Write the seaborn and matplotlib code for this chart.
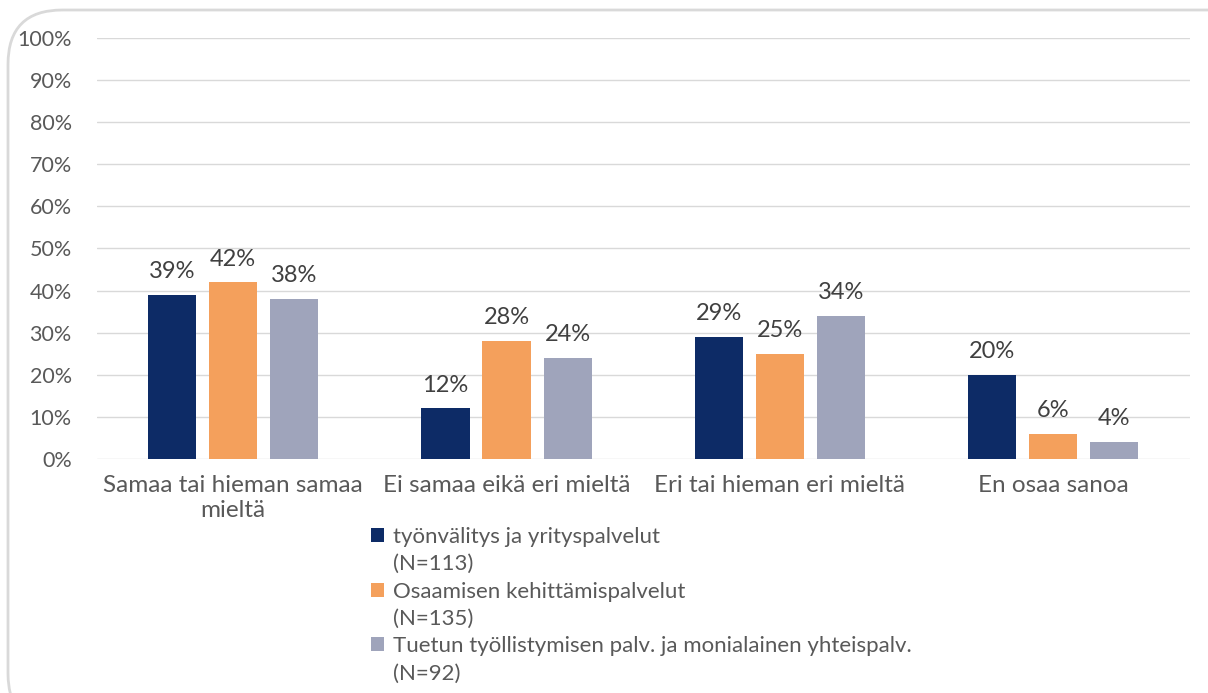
import matplotlib
matplotlib.use("Agg")
import matplotlib.pyplot as plt
from matplotlib.patches import FancyBboxPatch, Patch
import seaborn as sns
import pandas as pd

categories = ["Samaa tai hieman samaa\nmieltä", "Ei samaa eikä eri mieltä",
              "Eri tai hieman eri mieltä", "En osaa sanoa"]
series = ["työnvälitys ja yrityspalvelut",
          "Osaamisen kehittämispalvelut",
          "Tuetun työllistymisen palv. ja monialainen yhteispalv."]
sample_sizes = ["(N=113)", "(N=135)", "(N=92)"]
tyonvalitys = [39, 12, 29, 20]
osaaminen = [42, 28, 25, 6]
tuettu = [38, 24, 34, 4]
colors = ["#0d2b66", "#f4a05c", "#9fa4bb"]
yticks = [0, 10, 20, 30, 40, 50, 60, 70, 80, 90, 100]

rows = []
for s, vals in zip(series, [tyonvalitys, osaaminen, tuettu]):
    for c, v in zip(categories, vals):
        rows.append({"category": c, "series": s, "value": v})
df = pd.DataFrame(rows)

sns.set_theme(style="white")
plt.rcParams["font.family"] = ["Lato", "DejaVu Sans"]
text_color = "#595959"

fig = plt.figure(figsize=(12.08, 6.93), dpi=100)
ax = fig.add_axes([0.080, 0.338, 0.905, 0.607])

sns.barplot(data=df, x="category", y="value", hue="series", order=categories,
            hue_order=series, palette=colors, width=0.67, gap=0.21,
            saturation=1, linewidth=0, ax=ax, legend=True)

ax.set_ylim(0, 100)
ax.set_yticks(yticks)
ax.set_yticklabels([f"{t}%" for t in yticks])
ax.yaxis.grid(True, color="#d9d9d9", linewidth=1)
ax.set_axisbelow(True)
for sp in ax.spines.values():
    sp.set_visible(False)
ax.tick_params(axis="both", length=0, colors=text_color)
ax.tick_params(axis="x", labelsize=17.5, pad=12)
ax.tick_params(axis="y", labelsize=15.5, pad=18)
ax.set_xlabel("")
ax.set_ylabel("")

for container in ax.containers:
    ax.bar_label(container, labels=[f"{v:.0f}%" for v in container.datavalues],
                 padding=9, color="#404040", fontsize=17)

# Legend: series name next to its swatch, sample size on the line below
handles, labels = ax.get_legend_handles_labels()
leg_handles, leg_labels = [], []
for h, lab, n in zip(handles, labels, sample_sizes):
    leg_handles += [h, Patch(facecolor="none", edgecolor="none")]
    leg_labels += [lab, n]
ax.legend(leg_handles, leg_labels, loc="upper left",
          bbox_to_anchor=(362 / 1208, 1 - 518 / 693),
          bbox_transform=fig.transFigure, frameon=False, fontsize=16,
          labelcolor=text_color, handlelength=0.6, handleheight=0.6,
          handletextpad=0.4, labelspacing=0.33, borderaxespad=0)

frame = FancyBboxPatch((8 / 1208, -0.05), 1.05, 1 - 10 / 693 + 0.05,
                       boxstyle="round,pad=0,rounding_size=0.045",
                       transform=fig.transFigure, facecolor="none",
                       edgecolor="#d9d9d9", linewidth=2, clip_on=False,
                       mutation_aspect=1208 / 693)
fig.patches.append(frame)

fig.savefig("out.png", dpi=100, facecolor="white")
